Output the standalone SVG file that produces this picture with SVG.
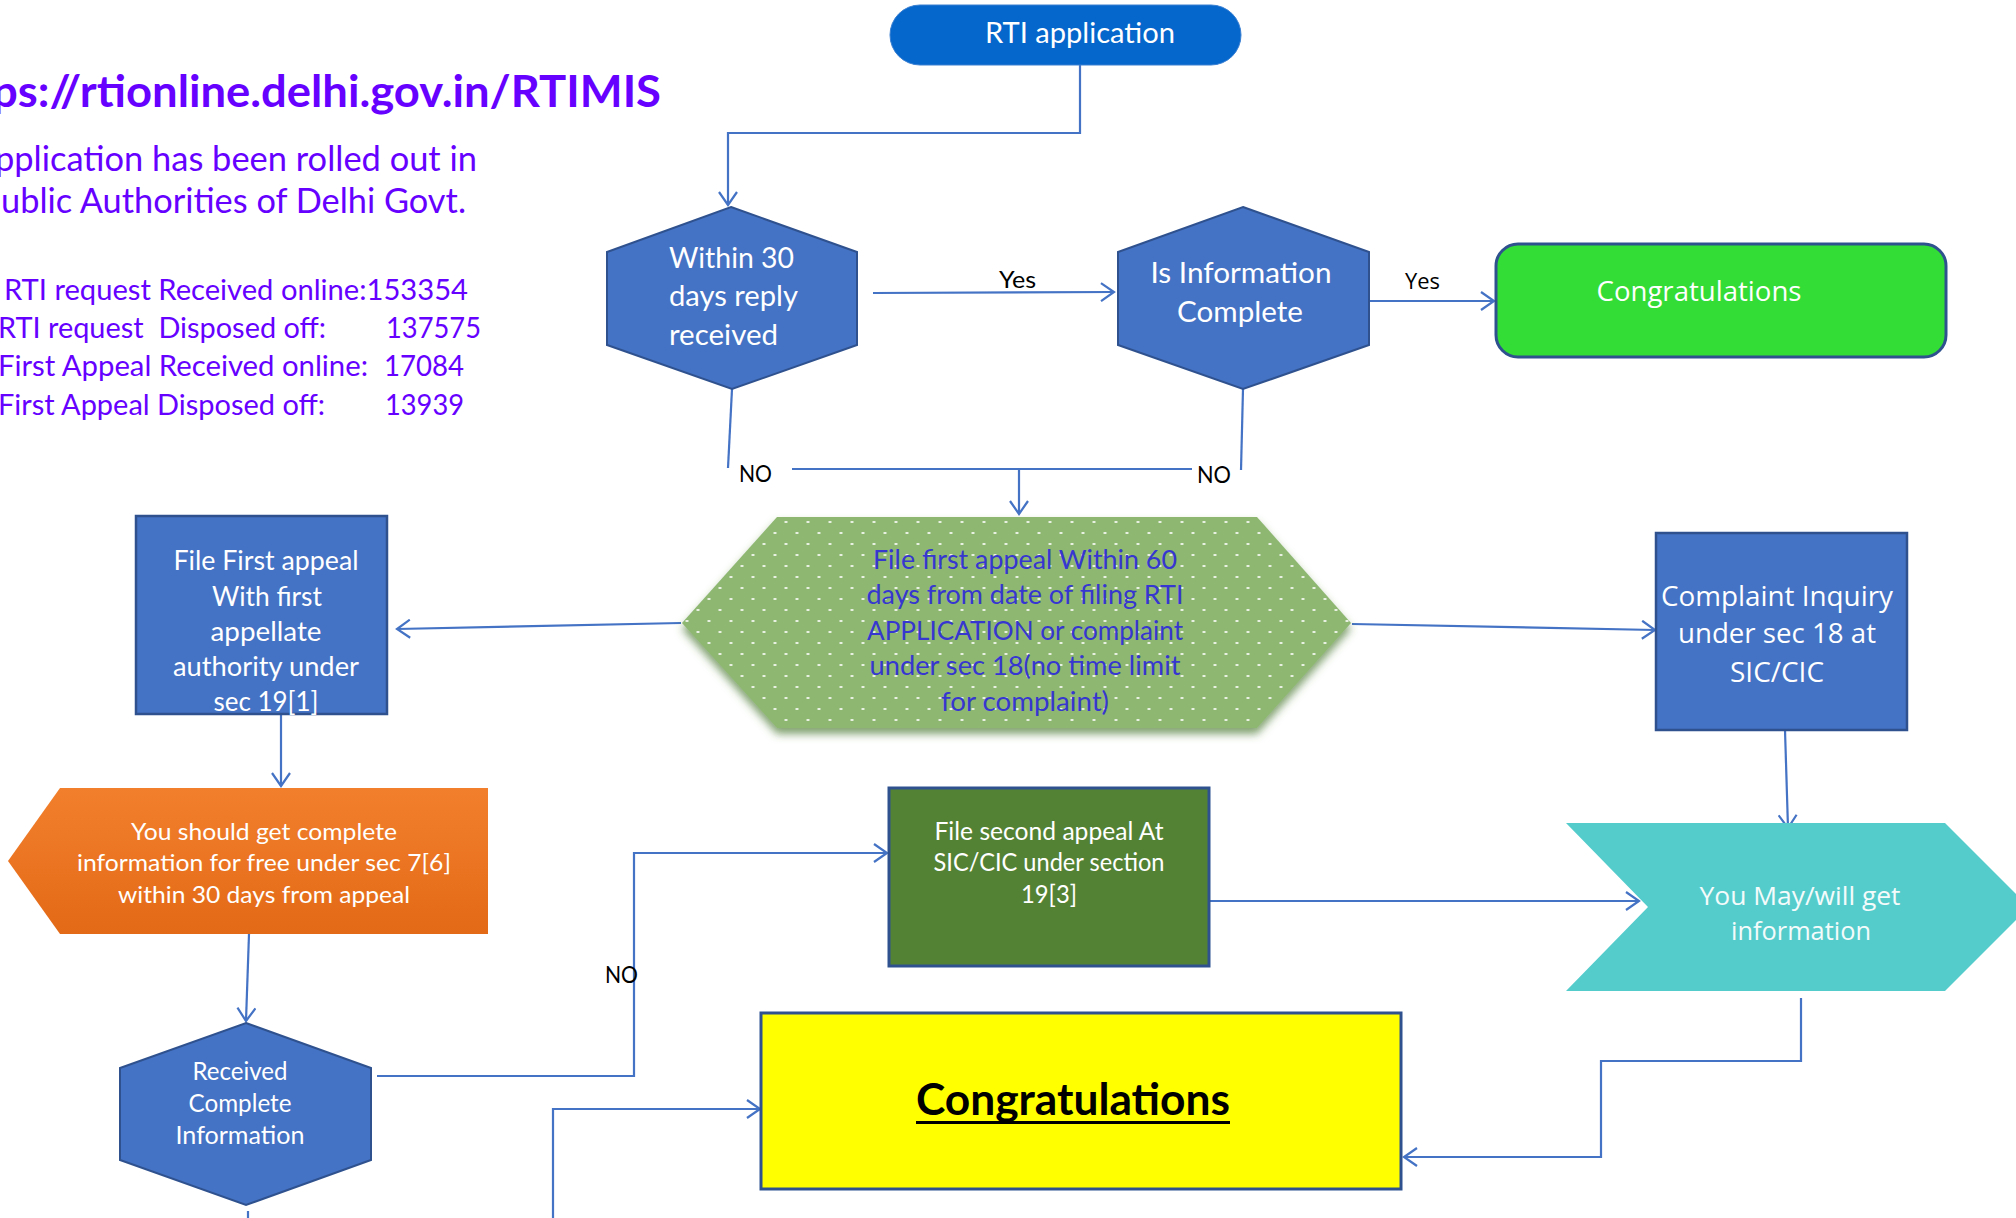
<svg xmlns="http://www.w3.org/2000/svg" width="2016" height="1218" viewBox="0 0 2016 1218">
<defs>
<style>
.cal{font-family:Lato,"Liberation Sans",sans-serif}
.seg{font-family:"Open Sans","Noto Sans",sans-serif}
.w{fill:#ffffff}
.k{fill:#000000}
.pur{fill:#6600FF}
.hexs{fill:#4472C4;stroke:#2F528F;stroke-width:2}
.box{fill:#4472C4;stroke:#2F528F;stroke-width:2.5}
.con{fill:none;stroke:#4472C4;stroke-width:2.2}
</style>
<marker id="ah" viewBox="0 0 20 20" markerWidth="20" markerHeight="20" refX="15" refY="10" orient="auto" markerUnits="userSpaceOnUse">
<path d="M2,1 L15,10 L2,19" fill="none" stroke="#4472C4" stroke-width="2.2"/>
</marker>
<pattern id="dots" width="22" height="22" patternUnits="userSpaceOnUse">
<rect width="22" height="22" fill="#8EB872"/>
<ellipse cx="5" cy="5" rx="1.8" ry="1" fill="#ffffff" opacity="0.85"/>
<ellipse cx="16" cy="16" rx="1.8" ry="1" fill="#ffffff" opacity="0.85"/>
</pattern>
<filter id="sh" x="-10%" y="-10%" width="120%" height="135%">
<feDropShadow dx="0" dy="6" stdDeviation="4" flood-color="#4d7a33" flood-opacity="0.7"/>
</filter>
<linearGradient id="og" x1="0" y1="0" x2="0" y2="1">
<stop offset="0" stop-color="#F27F2C"/>
<stop offset="1" stop-color="#E36A17"/>
</linearGradient>
</defs>
<rect width="2016" height="1218" fill="#ffffff"/>

<g id="info">
<text class="cal pur" x="-8" y="107" font-size="44" font-weight="bold" textLength="669" lengthAdjust="spacingAndGlyphs">ps://rtionline.delhi.gov.in/RTIMIS</text>
<text class="cal pur" x="-5" y="171" font-size="34" textLength="482" lengthAdjust="spacingAndGlyphs">pplication has been rolled out in</text>
<text class="cal pur" x="1" y="213" font-size="34" textLength="465" lengthAdjust="spacingAndGlyphs">ublic Authorities of Delhi Govt.</text>
<text class="cal pur" x="4" y="300" font-size="29.5" textLength="464" lengthAdjust="spacingAndGlyphs">RTI request Received online:153354</text>
<text class="cal pur" x="-2" y="338" font-size="29.5" textLength="328" lengthAdjust="spacingAndGlyphs" xml:space="preserve">RTI request  Disposed off:</text>
<text class="cal pur" x="386" y="338" font-size="29.5" textLength="95" lengthAdjust="spacingAndGlyphs">137575</text>
<text class="cal pur" x="-2" y="376" font-size="29.5" textLength="370" lengthAdjust="spacingAndGlyphs">First Appeal Received online:</text>
<text class="cal pur" x="384" y="376" font-size="29.5" textLength="80" lengthAdjust="spacingAndGlyphs">17084</text>
<text class="cal pur" x="-2" y="415" font-size="29.5" textLength="327" lengthAdjust="spacingAndGlyphs">First Appeal Disposed off:</text>
<text class="cal pur" x="385" y="415" font-size="29.5" textLength="79" lengthAdjust="spacingAndGlyphs">13939</text>
</g>

<g id="connectors">
<path class="con" d="M1080,65 V133 H728 V205" marker-end="url(#ah)"/>
<path class="con" d="M873,293 L1114,292" marker-end="url(#ah)"/>
<path class="con" d="M1369,301 H1494" marker-end="url(#ah)"/>
<path class="con" d="M732,389 L728,468"/>
<path class="con" d="M792,469 H1192"/>
<path class="con" d="M1243,389 L1241,470"/>
<path class="con" d="M1019,469 V514" marker-end="url(#ah)"/>
<path class="con" d="M681,623 L397,629" marker-end="url(#ah)"/>
<path class="con" d="M1352,624 L1655,630" marker-end="url(#ah)"/>
<path class="con" d="M281,714 V786" marker-end="url(#ah)"/>
<path class="con" d="M249,934 L246,1021" marker-end="url(#ah)"/>
<path class="con" d="M377,1076 H634 V853 H887" marker-end="url(#ah)"/>
<path class="con" d="M553,1218 V1109 H760" marker-end="url(#ah)"/>
<path class="con" d="M1209,901 H1639" marker-end="url(#ah)"/>
<path class="con" d="M1785,730 L1788,828" marker-end="url(#ah)"/>
<path class="con" d="M1801,998 V1061 H1601 V1157 H1404" marker-end="url(#ah)"/>
<path class="con" d="M248,1211 V1218"/>
<text class="cal k" x="999" y="288" font-size="24" textLength="37" lengthAdjust="spacingAndGlyphs">Yes</text>
<text class="seg k" x="1405" y="289" font-size="22" textLength="35" lengthAdjust="spacingAndGlyphs">Yes</text>
<text class="cal k" x="739" y="482" font-size="24" textLength="33" lengthAdjust="spacingAndGlyphs">NO</text>
<text class="cal k" x="1197" y="483" font-size="24" textLength="34" lengthAdjust="spacingAndGlyphs">NO</text>
<text class="cal k" x="605" y="983" font-size="24" textLength="33" lengthAdjust="spacingAndGlyphs">NO</text>
</g>

<g id="rti-application">
<rect x="890" y="5" width="351" height="60" rx="30" fill="#0566CC" stroke="#3A80D2" stroke-width="1"/>
<text class="cal w" x="1080" y="43" font-size="29.5" text-anchor="middle" textLength="190" lengthAdjust="spacingAndGlyphs">RTI application</text>
</g>

<g id="within-30-days">
<polygon class="hexs" points="731,207 857,252 857,345 732,389 607,345 607,252"/>
<text class="cal w" x="669" y="268" font-size="29" textLength="125" lengthAdjust="spacingAndGlyphs">Within 30</text>
<text class="cal w" x="669" y="306" font-size="29" textLength="129" lengthAdjust="spacingAndGlyphs">days reply</text>
<text class="cal w" x="669" y="345" font-size="29" textLength="109" lengthAdjust="spacingAndGlyphs">received</text>
</g>

<g id="is-information-complete">
<polygon class="hexs" points="1243,207 1369,252 1369,345 1243,389 1118,345 1118,252"/>
<text class="cal w" x="1241" y="283" font-size="29.5" text-anchor="middle" textLength="181" lengthAdjust="spacingAndGlyphs">Is Information</text>
<text class="cal w" x="1240" y="322" font-size="29.5" text-anchor="middle" textLength="126" lengthAdjust="spacingAndGlyphs">Complete</text>
</g>

<g id="congratulations-green">
<rect x="1496" y="244" width="450" height="113" rx="22" fill="#33DD35" stroke="#2F528F" stroke-width="3"/>
<text class="seg w" x="1699" y="301" font-size="27" text-anchor="middle" textLength="205" lengthAdjust="spacingAndGlyphs">Congratulations</text>
</g>

<g id="file-first-appeal-60">
<polygon points="777,517 1257,517 1351,623 1257,728 777,728 682,623" fill="url(#dots)" filter="url(#sh)"/>
<g class="cal" fill="#3636D0" font-size="27.5" text-anchor="middle">
<text x="1025" y="569" textLength="304" lengthAdjust="spacingAndGlyphs">File first appeal Within 60</text>
<text x="1025" y="604" textLength="317" lengthAdjust="spacingAndGlyphs">days from date of filing RTI</text>
<text x="1025" y="640" textLength="316" lengthAdjust="spacingAndGlyphs">APPLICATION or complaint</text>
<text x="1025" y="675" textLength="311" lengthAdjust="spacingAndGlyphs">under sec 18(no time limit</text>
<text x="1025" y="711" textLength="168" lengthAdjust="spacingAndGlyphs">for complaint)</text>
</g>
</g>

<g id="file-first-appeal">
<rect class="box" x="136" y="516" width="251" height="198"/>
<g class="cal w" font-size="27" text-anchor="middle">
<text x="266" y="570" textLength="185" lengthAdjust="spacingAndGlyphs">File First appeal</text>
<text x="267" y="606" textLength="110" lengthAdjust="spacingAndGlyphs">With first</text>
<text x="266" y="641" textLength="111" lengthAdjust="spacingAndGlyphs">appellate</text>
<text x="266" y="676" textLength="186" lengthAdjust="spacingAndGlyphs">authority under</text>
<text x="266" y="711" textLength="105" lengthAdjust="spacingAndGlyphs">sec 19[1]</text>
</g>
</g>

<g id="complaint-inquiry">
<rect class="box" x="1656" y="533" width="251" height="197"/>
<g class="seg w" font-size="27" text-anchor="middle">
<text x="1777" y="606" textLength="232" lengthAdjust="spacingAndGlyphs">Complaint Inquiry</text>
<text x="1777" y="643" textLength="198" lengthAdjust="spacingAndGlyphs">under sec 18 at</text>
<text x="1777" y="682" textLength="94" lengthAdjust="spacingAndGlyphs">SIC/CIC</text>
</g>
</g>

<g id="get-complete-info">
<polygon points="8,861 60,788 488,788 488,934 60,934" fill="url(#og)"/>
<g class="cal w" font-size="24" text-anchor="middle">
<text x="264" y="840" textLength="266" lengthAdjust="spacingAndGlyphs">You should get complete</text>
<text x="264" y="871" textLength="374" lengthAdjust="spacingAndGlyphs">information for free under sec 7[6]</text>
<text x="264" y="903" textLength="292" lengthAdjust="spacingAndGlyphs">within 30 days from appeal</text>
</g>
</g>

<g id="file-second-appeal">
<rect x="889" y="788" width="320" height="178" fill="#548235" stroke="#2F528F" stroke-width="3"/>
<g class="cal w" font-size="25" text-anchor="middle">
<text x="1049" y="840" textLength="229" lengthAdjust="spacingAndGlyphs">File second appeal At</text>
<text x="1049" y="871" textLength="231" lengthAdjust="spacingAndGlyphs">SIC/CIC under section</text>
<text x="1049" y="903" textLength="56" lengthAdjust="spacingAndGlyphs">19[3]</text>
</g>
</g>

<g id="may-get-information">
<polygon points="1566,823 1945,823 2029,907 1945,991 1566,991 1648,907" fill="#55CCCC"/>
<g class="seg" fill="#F4FBFB" font-size="26" text-anchor="middle">
<text x="1800" y="905" textLength="201" lengthAdjust="spacingAndGlyphs">You May/will get</text>
<text x="1801" y="940" textLength="140" lengthAdjust="spacingAndGlyphs">information</text>
</g>
</g>

<g id="received-complete-information">
<polygon class="hexs" points="246,1023 371,1068 371,1160 246,1205 120,1160 120,1068"/>
<g class="cal w" font-size="24.5" text-anchor="middle">
<text x="240" y="1080" textLength="95" lengthAdjust="spacingAndGlyphs">Received</text>
<text x="240" y="1112" textLength="103" lengthAdjust="spacingAndGlyphs">Complete</text>
<text x="240" y="1144" textLength="129" lengthAdjust="spacingAndGlyphs">Information</text>
</g>
</g>

<g id="congratulations-yellow">
<rect x="761" y="1013" width="640" height="176" fill="#FFFF00" stroke="#2F528F" stroke-width="3"/>
<text class="cal k" x="1073" y="1115" font-size="44" font-weight="bold" text-anchor="middle" textLength="314" lengthAdjust="spacingAndGlyphs">Congratulations</text>
<rect x="916" y="1121" width="314" height="3" fill="#000000"/>
</g>
</svg>
